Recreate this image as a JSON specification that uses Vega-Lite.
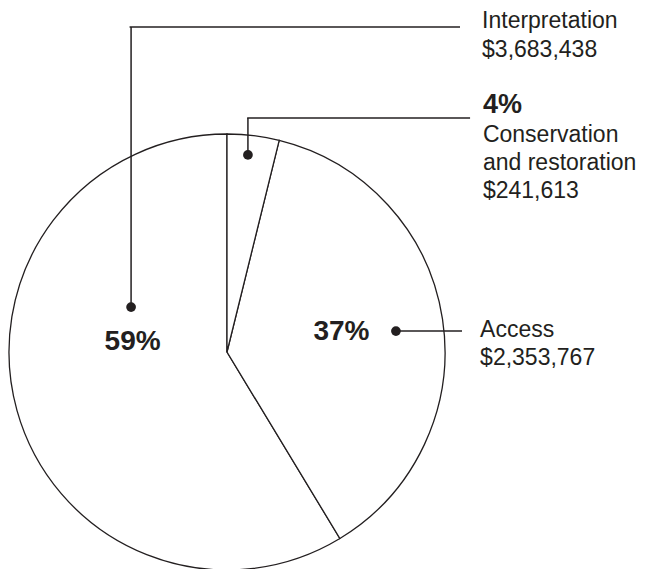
{
  "$schema": "https://vega.github.io/schema/vega-lite/v6.json",
  "autosize": "none",
  "width": 454,
  "height": 434,
  "padding": {"left": 0, "top": 135, "right": 198, "bottom": 0},
  "background": "white",
  "config": {
    "view": {"stroke": null},
    "axis": {"disable": true},
    "text": {"font": "Liberation Sans", "fill": "#231f20", "fontSize": 23, "align": "left", "baseline": "alphabetic"}
  },
  "data": {
    "values": [
      {"category": "Interpretation", "amount": 3683438, "share": 0.59},
      {"category": "Access", "amount": 2353767, "share": 0.37},
      {"category": "Conservation and restoration", "amount": 241613, "share": 0.04}
    ]
  },
  "layer": [
    {
      "mark": {"type": "arc", "outerRadius": 218, "fill": "white", "stroke": "#231f20", "strokeWidth": 1.3},
      "encoding": {
        "theta": {"field": "amount", "type": "quantitative", "stack": true},
        "order": {"field": "amount", "type": "quantitative", "sort": "ascending"}
      }
    },
    {
      "transform": [{"filter": "datum.category === 'Interpretation'"}],
      "mark": {"type": "rule", "stroke": "#231f20", "strokeWidth": 1.5},
      "encoding": {
        "x": {"datum": -0.44, "type": "quantitative", "scale": {"domain": [-1.0413, 1.0413], "nice": false, "zero": false}, "axis": null},
        "y": {"datum": 0.206, "type": "quantitative", "scale": {"domain": [-0.9954, 0.9954], "nice": false, "zero": false}, "axis": null},
        "x2": {"datum": -0.44},
        "y2": {"datum": 1.491}
      }
    },
    {
      "transform": [{"filter": "datum.category === 'Interpretation'"}],
      "mark": {"type": "rule", "stroke": "#231f20", "strokeWidth": 1.5},
      "encoding": {
        "x": {"datum": -0.447, "type": "quantitative", "axis": null},
        "y": {"datum": 1.491, "type": "quantitative", "axis": null},
        "x2": {"datum": 1.069},
        "y2": {"datum": 1.491}
      }
    },
    {
      "transform": [{"filter": "datum.category === 'Conservation and restoration'"}],
      "mark": {"type": "rule", "stroke": "#231f20", "strokeWidth": 1.5},
      "encoding": {
        "x": {"datum": 0.096, "type": "quantitative", "axis": null},
        "y": {"datum": 0.904, "type": "quantitative", "axis": null},
        "x2": {"datum": 0.096},
        "y2": {"datum": 1.073}
      }
    },
    {
      "transform": [{"filter": "datum.category === 'Conservation and restoration'"}],
      "mark": {"type": "rule", "stroke": "#231f20", "strokeWidth": 1.5},
      "encoding": {
        "x": {"datum": 0.0925, "type": "quantitative", "axis": null},
        "y": {"datum": 1.073, "type": "quantitative", "axis": null},
        "x2": {"datum": 1.115},
        "y2": {"datum": 1.073}
      }
    },
    {
      "transform": [{"filter": "datum.category === 'Access'"}],
      "mark": {"type": "rule", "stroke": "#231f20", "strokeWidth": 1.5},
      "encoding": {
        "x": {"datum": 0.775, "type": "quantitative", "axis": null},
        "y": {"datum": 0.096, "type": "quantitative", "axis": null},
        "x2": {"datum": 1.078},
        "y2": {"datum": 0.096}
      }
    },
    {
      "transform": [{"filter": "datum.category === 'Interpretation'"}],
      "mark": {"type": "circle", "size": 95, "color": "#231f20", "opacity": 1},
      "encoding": {
        "x": {"datum": -0.44, "type": "quantitative", "axis": null},
        "y": {"datum": 0.206, "type": "quantitative", "axis": null}
      }
    },
    {
      "transform": [{"filter": "datum.category === 'Conservation and restoration'"}],
      "mark": {"type": "circle", "size": 95, "color": "#231f20", "opacity": 1},
      "encoding": {
        "x": {"datum": 0.096, "type": "quantitative", "axis": null},
        "y": {"datum": 0.904, "type": "quantitative", "axis": null}
      }
    },
    {
      "transform": [{"filter": "datum.category === 'Access'"}],
      "mark": {"type": "circle", "size": 95, "color": "#231f20", "opacity": 1},
      "encoding": {
        "x": {"datum": 0.775, "type": "quantitative", "axis": null},
        "y": {"datum": 0.096, "type": "quantitative", "axis": null}
      }
    },
    {
      "transform": [{"filter": "datum.category === 'Interpretation'"}],
      "mark": {"type": "text"},
      "encoding": {
        "x": {"datum": 1.17, "type": "quantitative", "axis": null},
        "y": {"datum": 1.486, "type": "quantitative", "axis": null},
        "text": {"field": "category", "type": "nominal"}
      }
    },
    {
      "transform": [{"filter": "datum.category === 'Interpretation'"}],
      "mark": {"type": "text"},
      "encoding": {
        "x": {"datum": 1.17, "type": "quantitative", "axis": null},
        "y": {"datum": 1.353, "type": "quantitative", "axis": null},
        "text": {"field": "amount", "type": "quantitative", "format": "$,"}
      }
    },
    {
      "transform": [{"filter": "datum.category === 'Interpretation'"}],
      "mark": {"type": "text", "fontWeight": "bold", "fontSize": 28, "align": "center"},
      "encoding": {
        "x": {"datum": -0.433, "type": "quantitative", "axis": null},
        "y": {"datum": 0.009, "type": "quantitative", "axis": null},
        "text": {"field": "share", "type": "quantitative", "format": ".0%"}
      }
    },
    {
      "transform": [{"filter": "datum.category === 'Access'"}],
      "mark": {"type": "text"},
      "encoding": {
        "x": {"datum": 1.161, "type": "quantitative", "axis": null},
        "y": {"datum": 0.069, "type": "quantitative", "axis": null},
        "text": {"field": "category", "type": "nominal"}
      }
    },
    {
      "transform": [{"filter": "datum.category === 'Access'"}],
      "mark": {"type": "text"},
      "encoding": {
        "x": {"datum": 1.161, "type": "quantitative", "axis": null},
        "y": {"datum": -0.06, "type": "quantitative", "axis": null},
        "text": {"field": "amount", "type": "quantitative", "format": "$,"}
      }
    },
    {
      "transform": [{"filter": "datum.category === 'Access'"}],
      "mark": {"type": "text", "fontWeight": "bold", "fontSize": 28, "align": "center"},
      "encoding": {
        "x": {"datum": 0.525, "type": "quantitative", "axis": null},
        "y": {"datum": 0.055, "type": "quantitative", "axis": null},
        "text": {"field": "share", "type": "quantitative", "format": ".0%"}
      }
    },
    {
      "transform": [{"filter": "datum.category === 'Conservation and restoration'"}],
      "mark": {"type": "text", "fontWeight": "bold", "fontSize": 27},
      "encoding": {
        "x": {"datum": 1.174, "type": "quantitative", "axis": null},
        "y": {"datum": 1.096, "type": "quantitative", "axis": null},
        "text": {"field": "share", "type": "quantitative", "format": ".0%"}
      }
    },
    {
      "transform": [{"filter": "datum.category === 'Conservation and restoration'"}],
      "mark": {"type": "text", "lineHeight": 28},
      "encoding": {
        "x": {"datum": 1.174, "type": "quantitative", "axis": null},
        "y": {"datum": 0.963, "type": "quantitative", "axis": null},
        "text": {"value": ["Conservation", "and restoration"]}
      }
    },
    {
      "transform": [{"filter": "datum.category === 'Conservation and restoration'"}],
      "mark": {"type": "text"},
      "encoding": {
        "x": {"datum": 1.174, "type": "quantitative", "axis": null},
        "y": {"datum": 0.706, "type": "quantitative", "axis": null},
        "text": {"field": "amount", "type": "quantitative", "format": "$,"}
      }
    }
  ]
}
